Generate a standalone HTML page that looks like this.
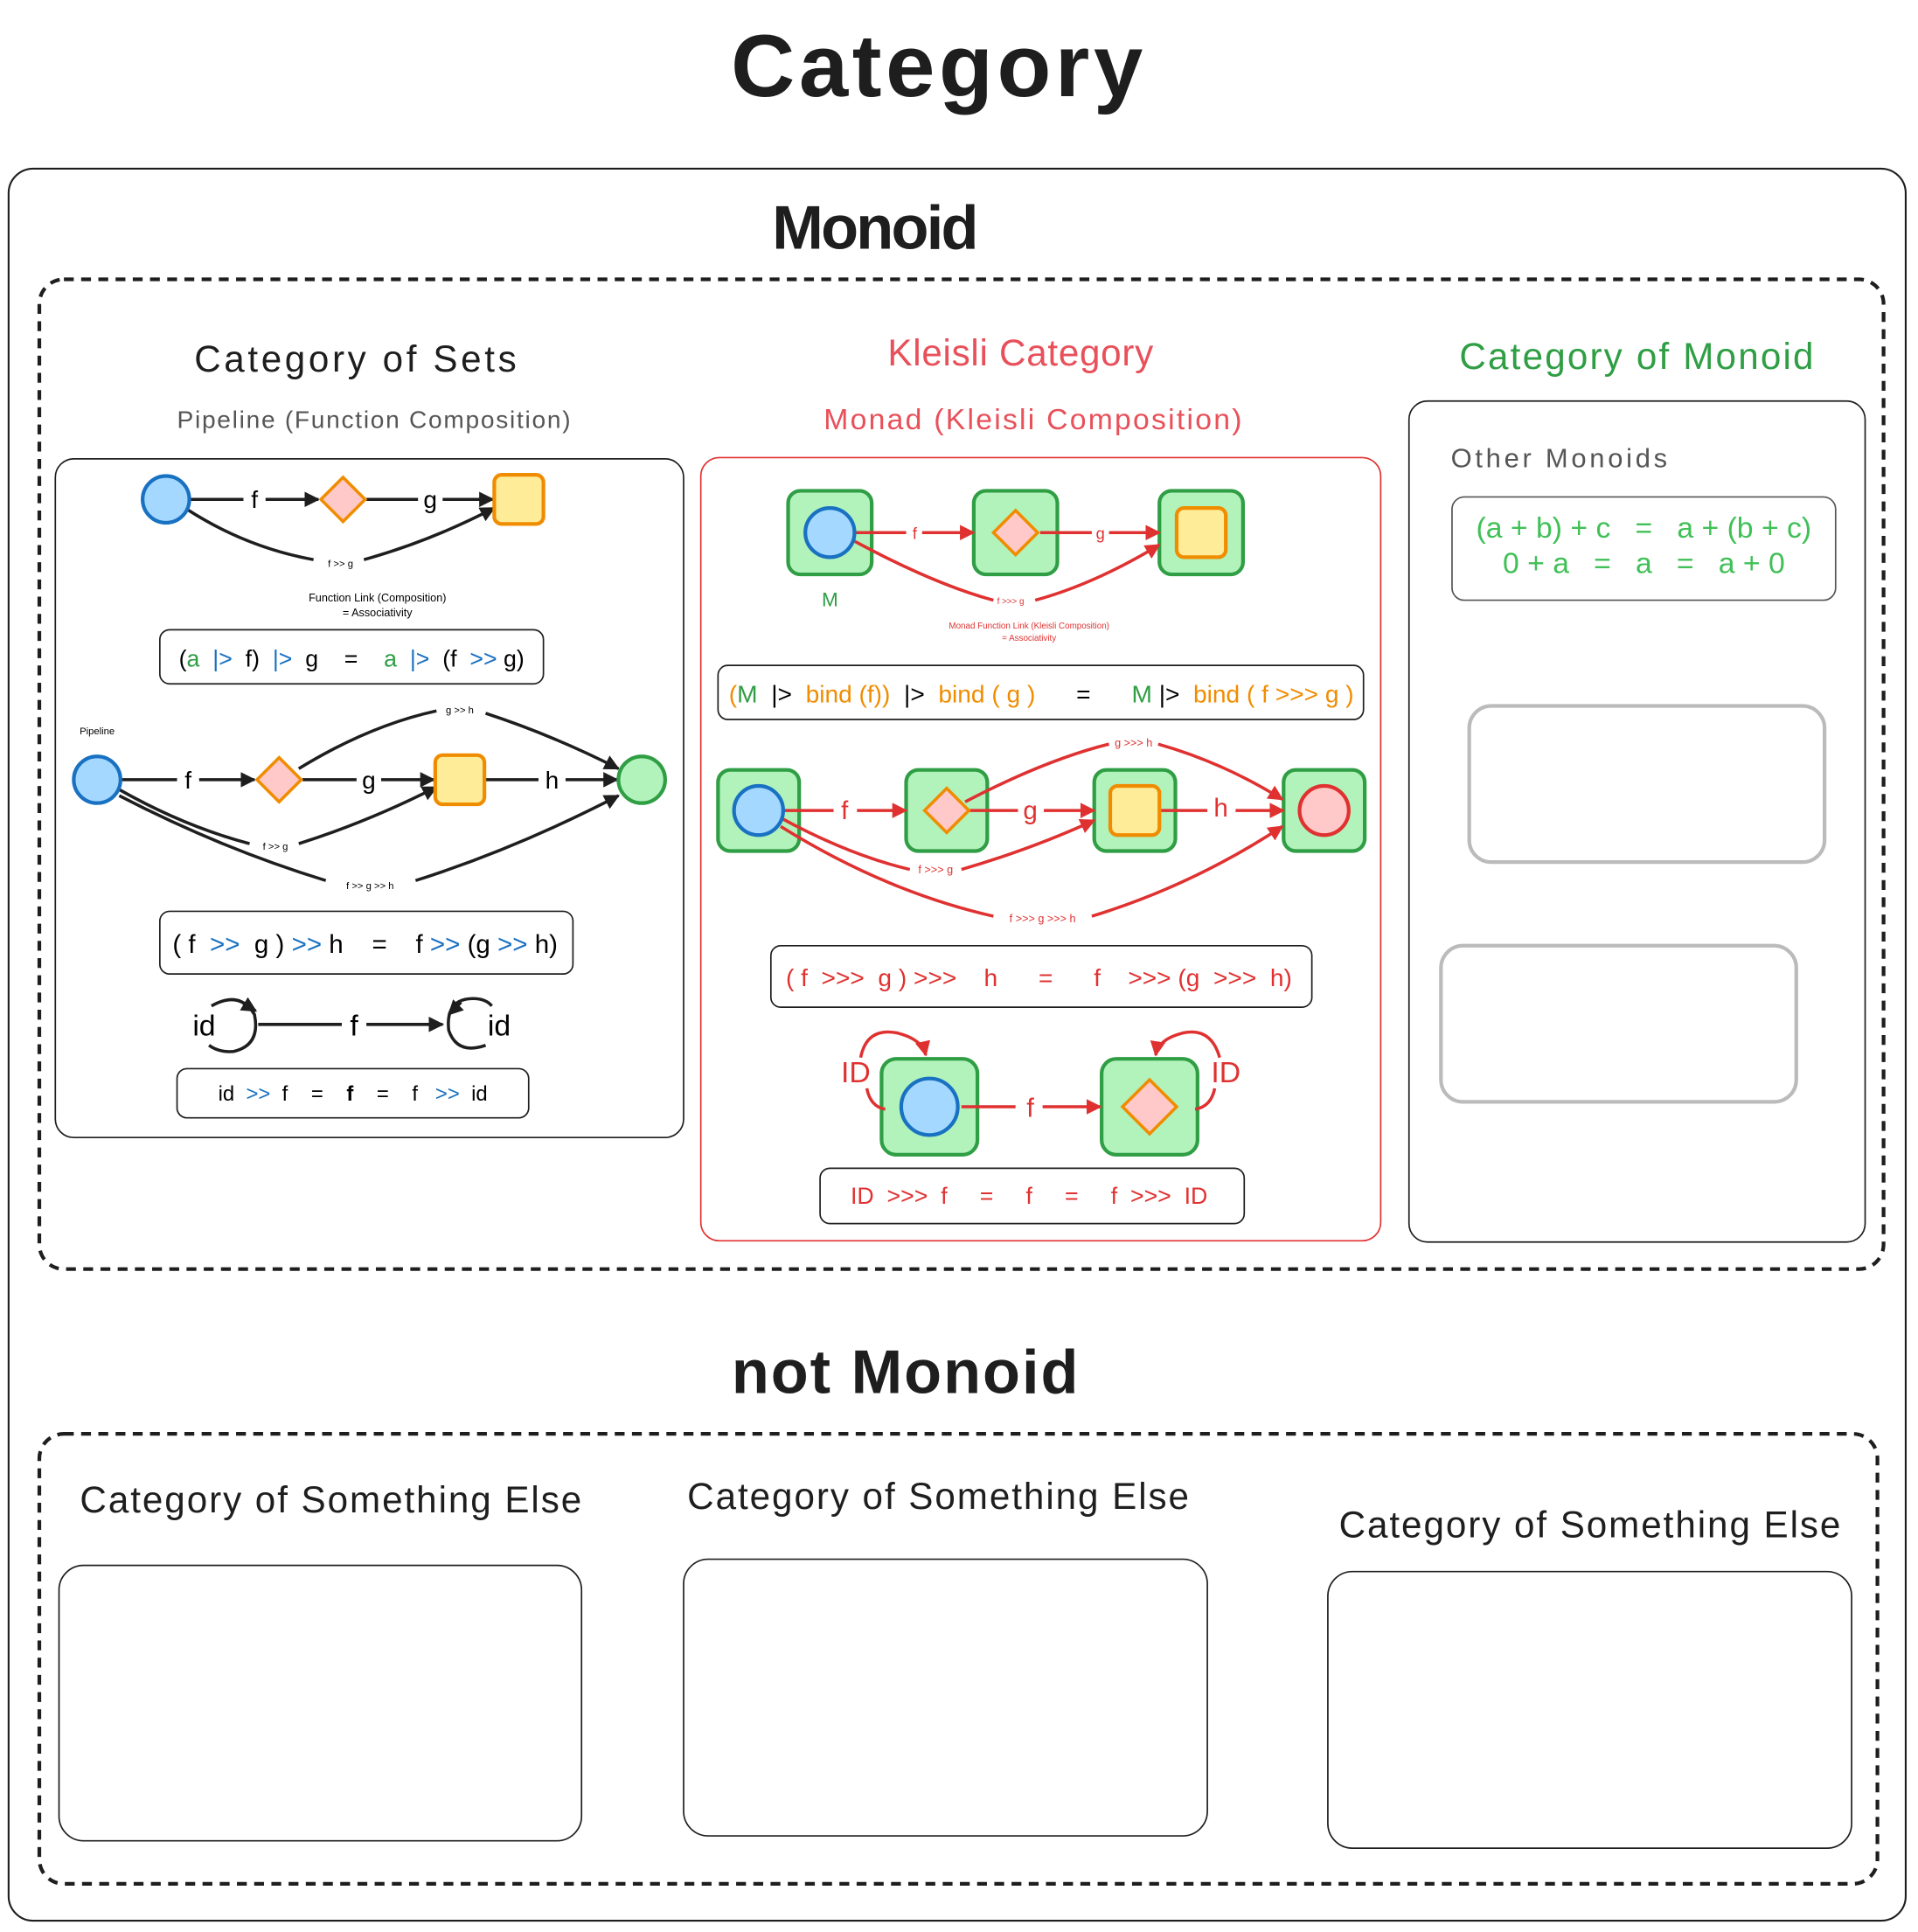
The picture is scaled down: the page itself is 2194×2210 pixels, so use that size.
<!DOCTYPE html>
<html><head><meta charset="utf-8"><style>
html,body{margin:0;padding:0;background:#fff;}
svg{display:block;}
text{font-family:"Liberation Sans",sans-serif;}
</style></head><body>
<svg width="2194" height="2210" viewBox="0 0 1560 1571" xmlns="http://www.w3.org/2000/svg">
<defs>
<marker id="ab" viewBox="0 0 10 10" refX="9" refY="5" markerWidth="5" markerHeight="5" orient="auto"><path d="M0,0 L10,5 L0,10 z" fill="#1e1e1e"/></marker>
<marker id="ar" viewBox="0 0 10 10" refX="9" refY="5" markerWidth="5" markerHeight="5" orient="auto"><path d="M0,0 L10,5 L0,10 z" fill="#e03131"/></marker>
</defs>
<rect width="1560" height="1571" fill="#fff"/>
<text x="762" y="78" font-size="72" font-weight="bold" text-anchor="middle" textLength="335" fill="#1e1e1e">Category</text>
<rect x="7" y="137" width="1543" height="1425" rx="20" fill="none" stroke="#1e1e1e" stroke-width="1.5"/>
<text x="712" y="202" font-size="50" font-weight="bold" text-anchor="middle" textLength="168" fill="#1e1e1e">Monoid</text>
<rect x="32" y="227" width="1500" height="805" rx="20" fill="none" stroke="#1e1e1e" stroke-width="3" stroke-dasharray="8 6"/>

<!-- Left column -->
<text x="289" y="302" font-size="30" text-anchor="middle" textLength="262" fill="#1e1e1e">Category of Sets</text>
<text x="304" y="348" font-size="20" text-anchor="middle" textLength="320" fill="#555">Pipeline (Function Composition)</text>
<rect x="45" y="373" width="511" height="552" rx="15" fill="none" stroke="#1e1e1e" stroke-width="1.2"/>
<g stroke="#1e1e1e" stroke-width="2.5" fill="none">
<line x1="155" y1="406" x2="198" y2="406"/><line x1="216" y1="406" x2="259" y2="406" marker-end="url(#ab)"/>
<line x1="298" y1="406" x2="340" y2="406"/><line x1="360" y1="406" x2="401" y2="406" marker-end="url(#ab)"/>
<path d="M152,414 Q200,445 255,455"/><path d="M296,455 Q350,440 402,413" marker-end="url(#ab)"/>
</g>
<circle cx="135" cy="406" r="19" fill="#a5d8ff" stroke="#1971c2" stroke-width="3"/>
<polygon points="279,388 297,406 279,424 261,406" fill="#ffc9c9" stroke="#f08c00" stroke-width="2.5"/>
<rect x="402" y="386" width="40" height="40" rx="6" fill="#ffec99" stroke="#f08c00" stroke-width="3"/>
<text x="207" y="413" font-size="20" text-anchor="middle">f</text>
<text x="350" y="413" font-size="20" text-anchor="middle">g</text>
<text x="277" y="461" font-size="8" text-anchor="middle">f &gt;&gt; g</text>
<text x="307" y="489" font-size="9" text-anchor="middle">Function Link (Composition)</text>
<text x="307" y="501" font-size="9" text-anchor="middle">=  Associativity</text>
<rect x="130" y="512" width="312" height="44" rx="8" fill="none" stroke="#1e1e1e" stroke-width="1.2"/>
<text x="286" y="542" font-size="19" text-anchor="middle" xml:space="preserve">(<tspan fill="#2f9e44">a</tspan>  <tspan fill="#1971c2">|&gt;</tspan>  f)  <tspan fill="#1971c2">|&gt;</tspan>  g    =    <tspan fill="#2f9e44">a</tspan>  <tspan fill="#1971c2">|&gt;</tspan>  (f  <tspan fill="#1971c2">&gt;&gt;</tspan> g)</text>

<text x="79" y="597" font-size="8" text-anchor="middle">Pipeline</text>
<g stroke="#1e1e1e" stroke-width="2.5" fill="none">
<line x1="99" y1="634" x2="144" y2="634"/><line x1="162" y1="634" x2="207" y2="634" marker-end="url(#ab)"/>
<line x1="246" y1="634" x2="290" y2="634"/><line x1="310" y1="634" x2="353" y2="634" marker-end="url(#ab)"/>
<line x1="395" y1="634" x2="438" y2="634"/><line x1="460" y1="634" x2="502" y2="634" marker-end="url(#ab)"/>
<path d="M243,625 Q300,590 355,578"/><path d="M395,580 Q450,598 503,625" marker-end="url(#ab)"/>
<path d="M97,642 Q150,672 203,686"/><path d="M243,686 Q300,668 355,640" marker-end="url(#ab)"/>
<path d="M97,647 Q180,690 265,716"/><path d="M338,716 Q420,690 503,647" marker-end="url(#ab)"/>
</g>
<circle cx="79" cy="634" r="19" fill="#a5d8ff" stroke="#1971c2" stroke-width="3"/>
<polygon points="227,616 245,634 227,652 209,634" fill="#ffc9c9" stroke="#f08c00" stroke-width="2.5"/>
<rect x="354" y="614" width="40" height="40" rx="6" fill="#ffec99" stroke="#f08c00" stroke-width="3"/>
<circle cx="522" cy="634" r="19" fill="#b2f2bb" stroke="#2f9e44" stroke-width="3"/>
<text x="153" y="641" font-size="20" text-anchor="middle">f</text>
<text x="300" y="641" font-size="20" text-anchor="middle">g</text>
<text x="449" y="641" font-size="20" text-anchor="middle">h</text>
<text x="374" y="580" font-size="8" text-anchor="middle">g &gt;&gt; h</text>
<text x="224" y="691" font-size="8" text-anchor="middle">f &gt;&gt; g</text>
<text x="301" y="723" font-size="8" text-anchor="middle">f &gt;&gt; g  &gt;&gt; h</text>
<rect x="130" y="741" width="336" height="51" rx="8" fill="none" stroke="#1e1e1e" stroke-width="1.2"/>
<text x="297" y="775" font-size="21" text-anchor="middle" xml:space="preserve">( f  <tspan fill="#1971c2">&gt;&gt;</tspan>  g ) <tspan fill="#1971c2">&gt;&gt;</tspan> h    =    f <tspan fill="#1971c2">&gt;&gt;</tspan> (g <tspan fill="#1971c2">&gt;&gt;</tspan> h)</text>
<g stroke="#1e1e1e" stroke-width="2.5" fill="none">
<path d="M172,818 Q195,805 207,825 Q212,850 190,855 Q178,856 170,850"/>
<path d="M198,816 L208,822" marker-end="url(#ab)"/>
<line x1="210" y1="833" x2="278" y2="833"/><line x1="298" y1="833" x2="360" y2="833" marker-end="url(#ab)"/>
<path d="M395,850 Q372,858 365,838 Q362,812 385,812 Q395,812 400,818"/>
<path d="M375,815 L365,825" marker-end="url(#ab)"/>
</g>
<text x="166" y="842" font-size="24" text-anchor="middle">id</text>
<text x="288" y="842" font-size="24" text-anchor="middle">f</text>
<text x="406" y="842" font-size="24" text-anchor="middle">id</text>
<rect x="144" y="869" width="286" height="40" rx="8" fill="none" stroke="#1e1e1e" stroke-width="1.2"/>
<text x="287" y="895" font-size="17" text-anchor="middle" xml:space="preserve">id  <tspan fill="#1971c2">&gt;&gt;</tspan>  f    =    <tspan font-weight="bold">f</tspan>    =    f   <tspan fill="#1971c2">&gt;&gt;</tspan>  id</text>

<!-- Middle column -->
<text x="830" y="297" font-size="30" text-anchor="middle" textLength="216" fill="#e8505a">Kleisli Category</text>
<text x="840" y="349" font-size="24" text-anchor="middle" textLength="340" fill="#e8505a">Monad (Kleisli Composition)</text>
<rect x="570" y="372" width="553" height="637" rx="15" fill="none" stroke="#e03131" stroke-width="1.2"/>
<g fill="#b2f2bb" stroke="#2f9e44" stroke-width="3">
<rect x="641" y="399" width="68" height="68" rx="10"/><rect x="792" y="399" width="68" height="68" rx="10"/><rect x="943" y="399" width="68" height="68" rx="10"/>
</g>
<g stroke="#e03131" stroke-width="2.5" fill="none">
<line x1="695" y1="433" x2="737" y2="433"/><line x1="750" y1="433" x2="792" y2="433" marker-end="url(#ar)"/>
<line x1="846" y1="433" x2="888" y2="433"/><line x1="902" y1="433" x2="943" y2="433" marker-end="url(#ar)"/>
<path d="M695,440 Q760,475 808,488"/><path d="M842,488 Q890,475 943,443" marker-end="url(#ar)"/>
</g>
<circle cx="675" cy="433" r="20" fill="#a5d8ff" stroke="#1971c2" stroke-width="3"/>
<polygon points="826,415 844,433 826,451 808,433" fill="#ffc9c9" stroke="#f08c00" stroke-width="2.5"/>
<rect x="957" y="413" width="40" height="40" rx="6" fill="#ffec99" stroke="#f08c00" stroke-width="3"/>
<text x="744" y="438" font-size="13" text-anchor="middle" fill="#e03131">f</text>
<text x="895" y="438" font-size="13" text-anchor="middle" fill="#e03131">g</text>
<text x="822" y="491" font-size="7" text-anchor="middle" fill="#e03131">f &gt;&gt;&gt; g</text>
<text x="675" y="493" font-size="16" text-anchor="middle" fill="#2f9e44">M</text>
<text x="837" y="511" font-size="7" text-anchor="middle" fill="#e03131">Monad Function Link (Kleisli Composition)</text>
<text x="837" y="521" font-size="7" text-anchor="middle" fill="#e03131">=  Associativity</text>
<rect x="584" y="541" width="525" height="44" rx="8" fill="none" stroke="#1e1e1e" stroke-width="1.2"/>
<text x="847" y="571" font-size="20" text-anchor="middle" xml:space="preserve"><tspan fill="#f08c00">(</tspan><tspan fill="#2f9e44">M</tspan>  |&gt;  <tspan fill="#f08c00">bind (f))</tspan>  |&gt;  <tspan fill="#f08c00">bind ( g )</tspan>      =      <tspan fill="#2f9e44">M</tspan> |&gt;  <tspan fill="#f08c00">bind ( f &gt;&gt;&gt; g )</tspan></text>

<g fill="#b2f2bb" stroke="#2f9e44" stroke-width="3">
<rect x="584" y="626" width="66" height="66" rx="10"/><rect x="737" y="626" width="66" height="66" rx="10"/><rect x="890" y="626" width="66" height="66" rx="10"/><rect x="1044" y="626" width="66" height="66" rx="10"/>
</g>
<g stroke="#e03131" stroke-width="2.5" fill="none">
<line x1="637" y1="659" x2="678" y2="659"/><line x1="697" y1="659" x2="737" y2="659" marker-end="url(#ar)"/>
<line x1="788" y1="659" x2="828" y2="659"/><line x1="849" y1="659" x2="890" y2="659" marker-end="url(#ar)"/>
<line x1="943" y1="659" x2="982" y2="659"/><line x1="1005" y1="659" x2="1044" y2="659" marker-end="url(#ar)"/>
<path d="M785,652 Q850,618 902,605"/><path d="M942,605 Q995,620 1043,650" marker-end="url(#ar)"/>
<path d="M635,665 Q690,695 740,707"/><path d="M782,707 Q840,690 890,667" marker-end="url(#ar)"/>
<path d="M635,672 Q720,725 808,745"/><path d="M888,745 Q970,720 1043,672" marker-end="url(#ar)"/>
</g>
<circle cx="617" cy="659" r="20" fill="#a5d8ff" stroke="#1971c2" stroke-width="3"/>
<polygon points="770,641 788,659 770,677 752,659" fill="#ffc9c9" stroke="#f08c00" stroke-width="2.5"/>
<rect x="903" y="639" width="40" height="40" rx="6" fill="#ffec99" stroke="#f08c00" stroke-width="3"/>
<circle cx="1077" cy="659" r="20" fill="#ffc9c9" stroke="#e03131" stroke-width="3"/>
<text x="687" y="666" font-size="21" text-anchor="middle" fill="#e03131">f</text>
<text x="838" y="666" font-size="21" text-anchor="middle" fill="#e03131">g</text>
<text x="993" y="664" font-size="21" text-anchor="middle" fill="#e03131">h</text>
<text x="922" y="607" font-size="9" text-anchor="middle" fill="#e03131">g &gt;&gt;&gt; h</text>
<text x="761" y="710" font-size="9" text-anchor="middle" fill="#e03131">f &gt;&gt;&gt; g</text>
<text x="848" y="750" font-size="9" text-anchor="middle" fill="#e03131">f &gt;&gt;&gt;  g  &gt;&gt;&gt;  h</text>
<rect x="627" y="769" width="440" height="50" rx="8" fill="none" stroke="#1e1e1e" stroke-width="1.2"/>
<text x="845" y="802" font-size="20" text-anchor="middle" fill="#e03131" xml:space="preserve">( f  &gt;&gt;&gt;  g ) &gt;&gt;&gt;    h      =      f    &gt;&gt;&gt; (g  &gt;&gt;&gt;  h)</text>

<g fill="#b2f2bb" stroke="#2f9e44" stroke-width="3">
<rect x="717" y="861" width="78" height="78" rx="12"/><rect x="896" y="861" width="78" height="78" rx="12"/>
</g>
<g stroke="#e03131" stroke-width="2.5" fill="none">
<path d="M700,860 Q705,835 730,840 Q750,845 753,858" marker-end="url(#ar)"/>
<path d="M705,885 Q708,900 720,902"/>
<path d="M992,860 Q985,835 962,840 Q942,845 940,858" marker-end="url(#ar)"/>
<path d="M988,885 Q985,900 972,902"/>
<line x1="782" y1="900" x2="826" y2="900"/><line x1="848" y1="900" x2="895" y2="900" marker-end="url(#ar)"/>
</g>
<circle cx="756" cy="900" r="23" fill="#a5d8ff" stroke="#1971c2" stroke-width="3"/>
<polygon points="935,878 957,900 935,922 913,900" fill="#ffc9c9" stroke="#f08c00" stroke-width="2.5"/>
<text x="696" y="880" font-size="24" text-anchor="middle" fill="#e03131">ID</text>
<text x="997" y="880" font-size="24" text-anchor="middle" fill="#e03131">ID</text>
<text x="838" y="908" font-size="22" text-anchor="middle" fill="#e03131">f</text>
<rect x="667" y="950" width="345" height="45" rx="8" fill="none" stroke="#1e1e1e" stroke-width="1.2"/>
<text x="837" y="979" font-size="19" text-anchor="middle" fill="#e03131" xml:space="preserve">ID  &gt;&gt;&gt;  f     =     f     =     f  &gt;&gt;&gt;  ID</text>

<!-- Right column -->
<text x="1331" y="300" font-size="30" text-anchor="middle" textLength="288" fill="#2f9e44">Category of Monoid</text>
<rect x="1146" y="326" width="371" height="684" rx="15" fill="none" stroke="#1e1e1e" stroke-width="1.2"/>
<text x="1180" y="380" font-size="22" textLength="176" fill="#555">Other Monoids</text>
<rect x="1181" y="404" width="312" height="84" rx="10" fill="none" stroke="#555" stroke-width="1.2"/>
<text x="1337" y="437" font-size="24" text-anchor="middle" fill="#40c057" xml:space="preserve">(a + b) + c   =   a + (b + c)</text>
<text x="1337" y="466" font-size="24" text-anchor="middle" fill="#40c057" xml:space="preserve">0 + a   =   a   =   a + 0</text>
<rect x="1195" y="574" width="289" height="127" rx="18" fill="none" stroke="#bbb" stroke-width="3"/>
<rect x="1172" y="769" width="289" height="127" rx="18" fill="none" stroke="#bbb" stroke-width="3"/>

<!-- not Monoid -->
<text x="736" y="1133" font-size="50" font-weight="bold" text-anchor="middle" textLength="282" fill="#1e1e1e">not Monoid</text>
<rect x="32" y="1166" width="1495" height="366" rx="20" fill="none" stroke="#1e1e1e" stroke-width="3" stroke-dasharray="8 6"/>
<text x="269" y="1230" font-size="30" text-anchor="middle" textLength="408" fill="#1e1e1e">Category of Something Else</text>
<text x="763" y="1227" font-size="30" text-anchor="middle" textLength="408" fill="#1e1e1e">Category of Something Else</text>
<text x="1293" y="1250" font-size="30" text-anchor="middle" textLength="408" fill="#1e1e1e">Category of Something Else</text>
<rect x="48" y="1273" width="425" height="224" rx="20" fill="none" stroke="#1e1e1e" stroke-width="1.2"/>
<rect x="556" y="1268" width="426" height="225" rx="20" fill="none" stroke="#1e1e1e" stroke-width="1.2"/>
<rect x="1080" y="1278" width="426" height="225" rx="20" fill="none" stroke="#1e1e1e" stroke-width="1.2"/>
</svg>
</body></html>
